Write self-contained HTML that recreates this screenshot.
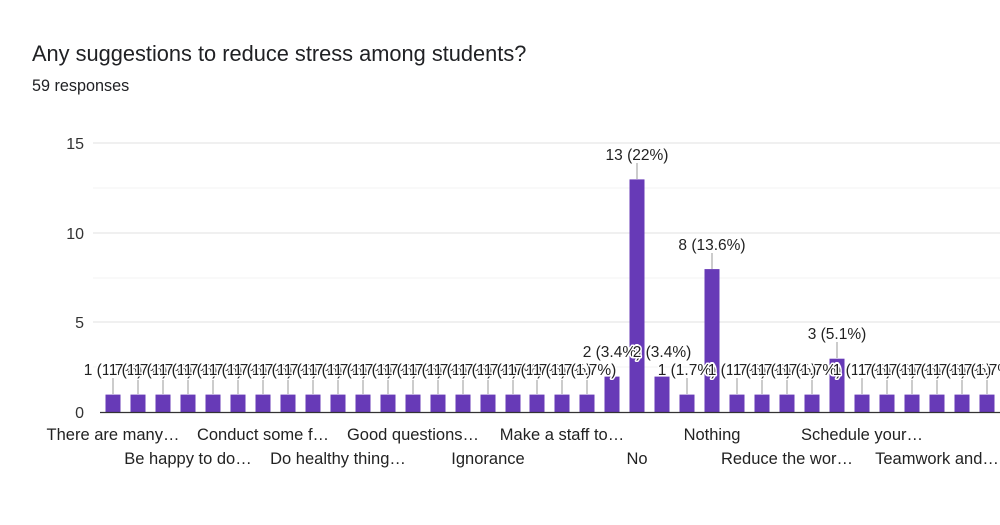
<!DOCTYPE html>
<html><head><meta charset="utf-8"><style>
html,body{margin:0;padding:0;background:#fff;width:1000px;height:525px;overflow:hidden;font-family:"Liberation Sans",Arial,sans-serif}
svg text{font-family:"Liberation Sans",Arial,sans-serif}
.l{font-size:15.5px;fill:#222;text-anchor:middle;stroke:#fff;stroke-width:3px;paint-order:stroke;stroke-linejoin:round}
.x{font-size:16.5px;fill:#222;text-anchor:middle}
.y{font-size:16px;fill:#333;text-anchor:end}
</style></head><body>
<svg width="1000" height="525" xmlns="http://www.w3.org/2000/svg">
<text x="32" y="61" font-size="21.8" fill="#202124">Any suggestions to reduce stress among students?</text>
<text x="32" y="91" font-size="16.2" fill="#202124">59 responses</text>
<g stroke="#f3f3f3" stroke-width="1">
<line x1="93" x2="1000" y1="188" y2="188"/><line x1="93" x2="1000" y1="278" y2="278"/><line x1="93" x2="1000" y1="367" y2="367"/>
</g>
<g stroke="#e6e6e6" stroke-width="1.2">
<line x1="93" x2="1000" y1="143" y2="143"/><line x1="93" x2="1000" y1="233" y2="233"/><line x1="93" x2="1000" y1="322" y2="322"/>
</g>
<text class="y" x="84" y="149">15</text>
<text class="y" x="84" y="239">10</text>
<text class="y" x="84" y="328">5</text>
<text class="y" x="84" y="418">0</text>
<g fill="#673ab7">
<rect x="105.5" y="394.6" width="15" height="17.9"/><rect x="130.5" y="394.6" width="15" height="17.9"/><rect x="155.5" y="394.6" width="15" height="17.9"/><rect x="180.5" y="394.6" width="15" height="17.9"/><rect x="205.5" y="394.6" width="15" height="17.9"/><rect x="230.5" y="394.6" width="15" height="17.9"/><rect x="255.5" y="394.6" width="15" height="17.9"/><rect x="280.5" y="394.6" width="15" height="17.9"/><rect x="305.5" y="394.6" width="15" height="17.9"/><rect x="330.5" y="394.6" width="15" height="17.9"/><rect x="355.5" y="394.6" width="15" height="17.9"/><rect x="380.5" y="394.6" width="15" height="17.9"/><rect x="405.5" y="394.6" width="15" height="17.9"/><rect x="430.5" y="394.6" width="15" height="17.9"/><rect x="455.5" y="394.6" width="15" height="17.9"/><rect x="480.5" y="394.6" width="15" height="17.9"/><rect x="505.5" y="394.6" width="15" height="17.9"/><rect x="529.5" y="394.6" width="15" height="17.9"/><rect x="554.5" y="394.6" width="15" height="17.9"/><rect x="579.5" y="394.6" width="15" height="17.9"/>
<rect x="604.5" y="376.6" width="15" height="35.9"/>
<rect x="629.5" y="179.4" width="15" height="233.1"/>
<rect x="654.5" y="376.6" width="15" height="35.9"/>
<rect x="679.5" y="394.6" width="15" height="17.9"/>
<rect x="704.5" y="269.1" width="15" height="143.4"/>
<rect x="729.5" y="394.6" width="15" height="17.9"/><rect x="754.5" y="394.6" width="15" height="17.9"/><rect x="779.5" y="394.6" width="15" height="17.9"/><rect x="804.5" y="394.6" width="15" height="17.9"/>
<rect x="829.5" y="358.7" width="15" height="53.8"/>
<rect x="854.5" y="394.6" width="15" height="17.9"/><rect x="879.5" y="394.6" width="15" height="17.9"/><rect x="904.5" y="394.6" width="15" height="17.9"/><rect x="929.5" y="394.6" width="15" height="17.9"/><rect x="954.5" y="394.6" width="15" height="17.9"/><rect x="979.5" y="394.6" width="15" height="17.9"/>
</g>
<line x1="100" x2="1000" y1="412.5" y2="412.5" stroke="#333" stroke-width="1.3"/>
<g stroke="#999" stroke-width="1">
<line x1="113" x2="113" y1="394" y2="378"/><line x1="138" x2="138" y1="394" y2="378"/><line x1="163" x2="163" y1="394" y2="378"/><line x1="188" x2="188" y1="394" y2="378"/><line x1="213" x2="213" y1="394" y2="378"/><line x1="238" x2="238" y1="394" y2="378"/><line x1="263" x2="263" y1="394" y2="378"/><line x1="288" x2="288" y1="394" y2="378"/><line x1="313" x2="313" y1="394" y2="378"/><line x1="338" x2="338" y1="394" y2="378"/><line x1="363" x2="363" y1="394" y2="378"/><line x1="388" x2="388" y1="394" y2="378"/><line x1="413" x2="413" y1="394" y2="378"/><line x1="438" x2="438" y1="394" y2="378"/><line x1="463" x2="463" y1="394" y2="378"/><line x1="488" x2="488" y1="394" y2="378"/><line x1="513" x2="513" y1="394" y2="378"/><line x1="537" x2="537" y1="394" y2="378"/><line x1="562" x2="562" y1="394" y2="378"/><line x1="587" x2="587" y1="394" y2="378"/>
<line x1="637" x2="637" y1="179" y2="163"/><line x1="687" x2="687" y1="394" y2="378"/><line x1="712" x2="712" y1="269" y2="253"/>
<line x1="737" x2="737" y1="394" y2="378"/><line x1="762" x2="762" y1="394" y2="378"/><line x1="787" x2="787" y1="394" y2="378"/><line x1="812" x2="812" y1="394" y2="378"/><line x1="837" x2="837" y1="358" y2="342"/>
<line x1="862" x2="862" y1="394" y2="378"/><line x1="887" x2="887" y1="394" y2="378"/><line x1="912" x2="912" y1="394" y2="378"/><line x1="937" x2="937" y1="394" y2="378"/><line x1="962" x2="962" y1="394" y2="378"/><line x1="987" x2="987" y1="394" y2="378"/>
</g>
<g>
<text class="l" x="113" y="375">1 (1.7%)</text><text class="l" x="138" y="375">1 (1.7%)</text><text class="l" x="163" y="375">1 (1.7%)</text><text class="l" x="188" y="375">1 (1.7%)</text><text class="l" x="213" y="375">1 (1.7%)</text><text class="l" x="238" y="375">1 (1.7%)</text><text class="l" x="263" y="375">1 (1.7%)</text><text class="l" x="288" y="375">1 (1.7%)</text><text class="l" x="313" y="375">1 (1.7%)</text><text class="l" x="338" y="375">1 (1.7%)</text><text class="l" x="363" y="375">1 (1.7%)</text><text class="l" x="388" y="375">1 (1.7%)</text><text class="l" x="413" y="375">1 (1.7%)</text><text class="l" x="438" y="375">1 (1.7%)</text><text class="l" x="463" y="375">1 (1.7%)</text><text class="l" x="488" y="375">1 (1.7%)</text><text class="l" x="513" y="375">1 (1.7%)</text><text class="l" x="537" y="375">1 (1.7%)</text><text class="l" x="562" y="375">1 (1.7%)</text><text class="l" x="587" y="375">1 (1.7%)</text>
<text class="l" x="612" y="357">2 (3.4%)</text><text class="l" x="662" y="357">2 (3.4%)</text>
<text class="l" x="637" y="160">13 (22%)</text>
<text class="l" x="687" y="375">1 (1.7%)</text>
<text class="l" x="712" y="250">8 (13.6%)</text>
<text class="l" x="737" y="375">1 (1.7%)</text><text class="l" x="762" y="375">1 (1.7%)</text><text class="l" x="787" y="375">1 (1.7%)</text><text class="l" x="812" y="375">1 (1.7%)</text>
<text class="l" x="837" y="339">3 (5.1%)</text>
<text class="l" x="862" y="375">1 (1.7%)</text><text class="l" x="887" y="375">1 (1.7%)</text><text class="l" x="912" y="375">1 (1.7%)</text><text class="l" x="937" y="375">1 (1.7%)</text><text class="l" x="962" y="375">1 (1.7%)</text><text class="l" x="987" y="375">1 (1.7%)</text>
</g>
<text class="x" x="113" y="440">There are many…</text>
<text class="x" x="263" y="440">Conduct some f…</text>
<text class="x" x="413" y="440">Good questions…</text>
<text class="x" x="562" y="440">Make a staff to…</text>
<text class="x" x="712" y="440">Nothing</text>
<text class="x" x="862" y="440">Schedule your…</text>
<text class="x" x="188" y="464">Be happy to do…</text>
<text class="x" x="338" y="464">Do healthy thing…</text>
<text class="x" x="488" y="464">Ignorance</text>
<text class="x" x="637" y="464">No</text>
<text class="x" x="787" y="464">Reduce the wor…</text>
<text class="x" x="937" y="464">Teamwork and…</text>
</svg>
</body></html>
